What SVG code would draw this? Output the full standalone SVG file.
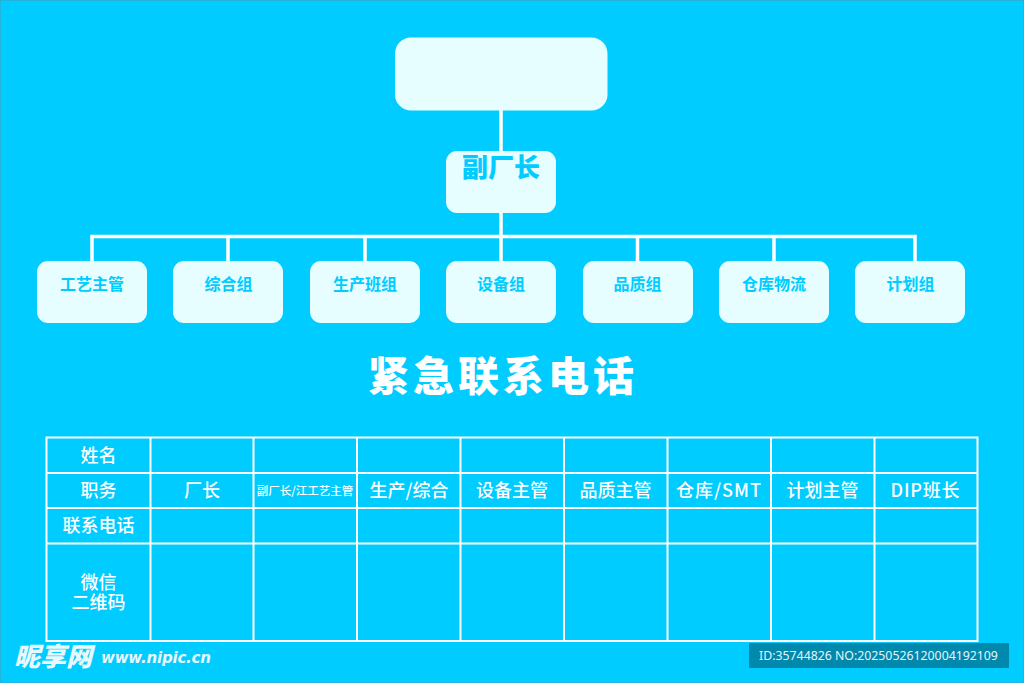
<svg xmlns="http://www.w3.org/2000/svg" width="1024" height="683" viewBox="0 0 1024 683">
<style>
.n{fill:#e6feff}
.c{fill:none;stroke:#fff;stroke-width:3.500}
.t{fill:none;stroke:#fff;stroke-width:2}
text{font-family:"Noto Sans CJK SC","Noto Sans",sans-serif;text-anchor:middle}
.l{fill:#00ccff;font-size:16px;font-weight:700}
.h{fill:#fff;font-size:18px;font-weight:500}
</style>
<rect x="0.5" y="0.5" width="1023" height="682" fill="#00ccff" stroke="#22b4dc"/>
<g id="connectors">
<path class="c" d="M501 110V151M501 212V262M92 262V236.500H915V262M228 236.500V262M365 236.500V262M637.500 236.500V262M774 236.500V262"/>
</g>
<g id="top"><rect class="n" x="395" y="37.500" width="212.500" height="73" rx="16"/></g>
<g id="vice"><rect class="n" x="446" y="151" width="110" height="62" rx="11"/><text x="501" y="177" fill="#00ccff" font-size="26" font-weight="900">副厂长</text></g>
<g id="n1"><rect class="n" x="37" y="261" width="110" height="62" rx="11"/><text class="l" x="92" y="290">工艺主管</text></g>
<g id="n2"><rect class="n" x="173" y="261" width="110" height="62" rx="11"/><text class="l" x="228.500" y="290">综合组</text></g>
<g id="n3"><rect class="n" x="310" y="261" width="110" height="62" rx="11"/><text class="l" x="365" y="290">生产班组</text></g>
<g id="n4"><rect class="n" x="446" y="261" width="110" height="62" rx="11"/><text class="l" x="501" y="290">设备组</text></g>
<g id="n5"><rect class="n" x="583" y="261" width="110" height="62" rx="11"/><text class="l" x="637.500" y="290">品质组</text></g>
<g id="n6"><rect class="n" x="719" y="261" width="110" height="62" rx="11"/><text class="l" x="774" y="290">仓库物流</text></g>
<g id="n7"><rect class="n" x="855" y="261" width="110" height="62" rx="11"/><text class="l" x="910.500" y="290">计划组</text></g>
<text x="503" y="391" fill="#fff" font-size="41" font-weight="900" letter-spacing="4">紧急联系电话</text>
<g id="table">
<path class="t" d="M46.500 437.500H977.500V641H46.500ZM46.500 473H977.500M46.500 508H977.500M46.500 543.500H977.500M150.500 437.500V641M253.500 437.500V641M357 437.500V641M460.500 437.500V641M564 437.500V641M667.500 437.500V641M771 437.500V641M874.500 437.500V641"/>
<text class="h" x="98.500" y="462">姓名</text>
<text class="h" x="98.500" y="497">职务</text>
<text class="h" x="98.500" y="532">联系电话</text>
<text class="h" x="98.500" y="589">微信<tspan x="98.500" dy="19.500">二维码</tspan></text>
<text class="h" x="202" y="497">厂长</text>
<text x="305" y="495" fill="#fff" font-size="11.500" font-weight="500">副厂长/江工艺主管</text>
<text class="h" x="409" y="497">生产/综合</text>
<text class="h" x="512" y="497">设备主管</text>
<text class="h" x="615.500" y="497">品质主管</text>
<text class="h" x="719" y="497" letter-spacing="1">仓库/SMT</text>
<text class="h" x="822.500" y="497">计划主管</text>
<text class="h" x="925.500" y="497" letter-spacing="0.800">DIP班长</text>
</g>
<g id="watermark">
<text x="53" y="666" fill="#e8f8fc" font-size="26" font-weight="900" font-style="italic">昵享网</text>
<text x="156" y="663" fill="#e8f8fc" font-size="15" font-weight="700" font-style="italic" style="font-family:'DejaVu Sans',sans-serif" textLength="110">www.nipic.cn</text>
<rect x="749" y="643" width="260" height="25" rx="1" fill="#0088ad"/>
<text x="878.500" y="660" fill="#e6f6fa" font-size="12.300" style="font-family:'Noto Sans',sans-serif">ID:35744826 NO:20250526120004192109</text>
</g>
</svg>
